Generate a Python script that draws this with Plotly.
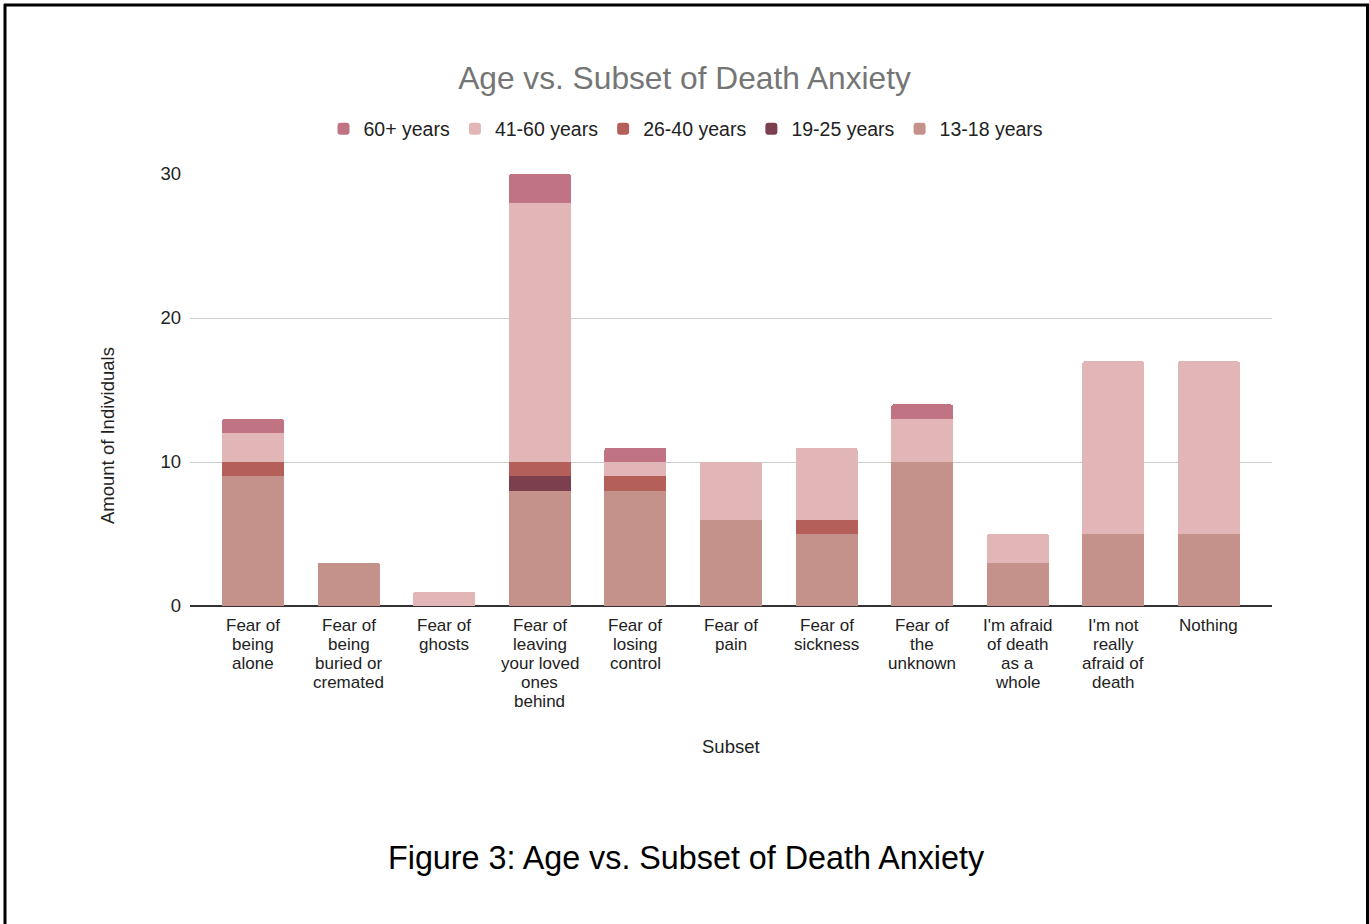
import plotly.graph_objects as go

# Survey responses: what part of death people fear, split by age group
categories = [
    "Fear of<br>being<br>alone",
    "Fear of<br>being<br>buried or<br>cremated",
    "Fear of<br>ghosts",
    "Fear of<br>leaving<br>your loved<br>ones<br>behind",
    "Fear of<br>losing<br>control",
    "Fear of<br>pain",
    "Fear of<br>sickness",
    "Fear of<br>the<br>unknown",
    "I'm afraid<br>of death<br>as a<br>whole",
    "I'm not<br>really<br>afraid of<br>death",
    "Nothing",
]

age_13_18 = [9, 3, 0, 8, 8, 6, 5, 10, 3, 5, 5]
age_19_25 = [0, 0, 0, 1, 0, 0, 0, 0, 0, 0, 0]
age_26_40 = [1, 0, 0, 1, 1, 0, 1, 0, 0, 0, 0]
age_41_60 = [2, 0, 1, 18, 1, 4, 5, 3, 2, 12, 12]
age_60_plus = [1, 0, 0, 2, 1, 0, 0, 1, 0, 0, 0]

series = [
    ("13-18 years", age_13_18, "#c4918b"),
    ("19-25 years", age_19_25, "#7b3f4e"),
    ("26-40 years", age_26_40, "#b55f5a"),
    ("41-60 years", age_41_60, "#e2b5b6"),
    ("60+ years", age_60_plus, "#bf7383"),
]

y_ticks = [0, 10, 20, 30]

W, H = 1369, 924
ML, MR, MT, MB = 190, 97, 174, 318
PW, PH = W - ML - MR, H - MT - MB
FONT = "Liberation Sans, Arial, sans-serif"
TEXT = "#222222"


def px_x(px):
    return (px - ML) / PW


def px_y(py):
    return (H - MB - py) / PH


fig = go.Figure()
for name, vals, color in series:
    fig.add_trace(go.Bar(
        name=name,
        x=categories,
        y=vals,
        marker=dict(color=color, line=dict(width=0)),
    ))

annotations = []
# category labels, one line at a time for tighter line spacing
for cat in categories:
    for j, line in enumerate(cat.split("<br>")):
        annotations.append(dict(
            x=cat, xref="x", y=0, yref="paper",
            yshift=-(19 + j * 19), yanchor="middle", xanchor="center",
            text=line, showarrow=False, borderpad=0,
            font=dict(family=FONT, size=17, color=TEXT),
        ))

annotations += [
    dict(x=0.5, xref="paper", y=px_y(746), yref="paper",
         text="Subset", showarrow=False, xanchor="center", yanchor="middle",
         font=dict(family=FONT, size=18.5, color=TEXT)),
    dict(x=px_x(108), xref="paper", y=px_y(436), yref="paper",
         text="Amount of Individuals", textangle=-90, showarrow=False,
         xanchor="center", yanchor="middle",
         font=dict(family=FONT, size=18.5, color=TEXT)),
    dict(x=px_x(686), xref="paper", y=px_y(858), yref="paper",
         text="Figure 3: Age vs. Subset of Death Anxiety", showarrow=False,
         xanchor="center", yanchor="middle",
         font=dict(family=FONT, size=32.3, color="#000000")),
]

# page frame (left, top, right)
frame = dict(color="#000000", width=3)
shapes = [
    dict(type="line", xref="paper", yref="paper",
         x0=px_x(5), x1=px_x(5), y0=px_y(4), y1=px_y(930), line=frame),
    dict(type="line", xref="paper", yref="paper",
         x0=px_x(4), x1=px_x(1369), y0=px_y(5), y1=px_y(5), line=frame),
    dict(type="line", xref="paper", yref="paper",
         x0=px_x(1367.5), x1=px_x(1367.5), y0=px_y(4), y1=px_y(930), line=frame),
]

fig.update_layout(
    width=W, height=H,
    margin=dict(l=ML, r=MR, t=MT, b=MB, autoexpand=False),
    paper_bgcolor="white", plot_bgcolor="white",
    barmode="stack", bargap=0.35, barcornerradius=3,
    font=dict(family=FONT, color=TEXT),
    title=dict(
        text="Age vs. Subset of Death Anxiety",
        x=0.5, xref="container", xanchor="center",
        y=1 - 78 / H, yref="container", yanchor="middle",
        font=dict(family=FONT, size=31.7, color="#757575"),
    ),
    legend=dict(
        orientation="h", traceorder="reversed",
        x=px_x(686), xanchor="center", y=px_y(129), yanchor="middle",
        font=dict(family=FONT, size=19.5, color=TEXT),
        itemclick=False,
    ),
    xaxis=dict(
        type="category", range=[-0.66, len(categories) - 1 + 0.66],
        showticklabels=False, showgrid=False, ticks="",
        showline=False, zeroline=False,
    ),
    yaxis=dict(
        range=[0, 30], tickvals=y_ticks, ticks="",
        showgrid=True, gridcolor="#cccccc", gridwidth=1,
        zeroline=True, zerolinecolor="#333333", zerolinewidth=1.5,
        showline=False, ticklabelstandoff=8,
        tickfont=dict(family=FONT, size=18.5, color=TEXT),
    ),
    annotations=annotations,
    shapes=shapes,
)

fig.write_html("out.html")
